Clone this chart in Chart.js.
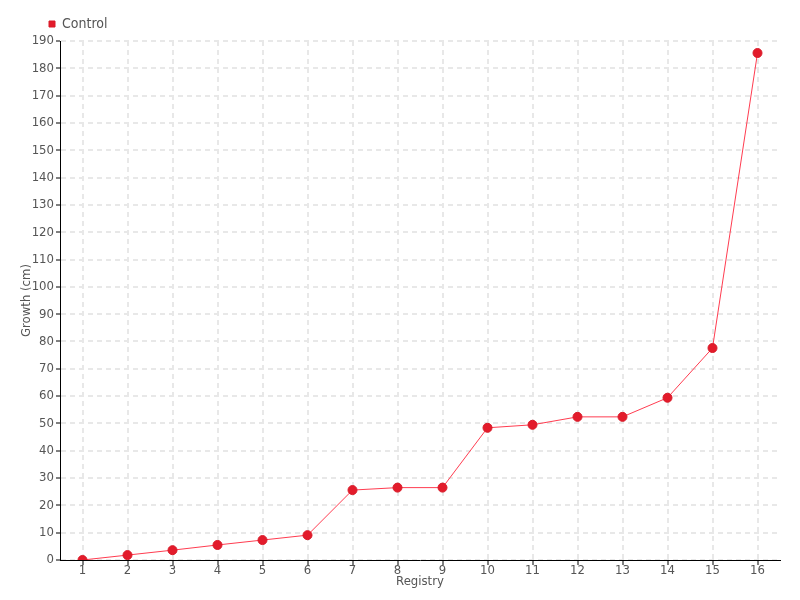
<!DOCTYPE html>
<html>
<head>
<meta charset="utf-8">
<script src="https://cdn.jsdelivr.net/npm/chart.js@4"></script>
<style>
  html, body { margin: 0; padding: 0; background: #fff; }
  #wrap { width: 800px; height: 600px; }
</style>
</head>
<body>
<div id="wrap"><canvas id="growthChart" width="800" height="600"></canvas></div>
<script>
// Datos
var registros = ['1', '2', '3', '4', '5', '6', '7', '8', '9', '10', '11', '12', '13', '14', '15', '16'];
var control = [0, 1.8, 3.6, 5.5, 7.3, 9.1, 25.6, 26.5, 26.5, 48.4, 49.5, 52.4, 52.4, 59.4, 77.6, 185.6];
var yMax = 190;
var yPaso = 10;

Chart.defaults.font.family = "'Liberation Sans Narrow', 'DejaVu Sans Condensed', Roboto, sans-serif";
Chart.defaults.font.size = 13;
Chart.defaults.color = '#555';

// mover la leyenda un poco a la derecha, como en el original
var moverLeyenda = {
    id: 'moverLeyenda',
    afterLayout: function(chart) {
        if (chart.legend) {
            chart.legend.left += 29;
        }
    }
};

var ctx = document.getElementById('growthChart').getContext('2d');
var growthChart = new Chart(ctx, {
    type: 'line',
    data: {
        labels: registros,
        datasets: [{
            label: 'Control',
            data: control,
            borderColor: 'rgba(255, 60, 80, 1)',
            backgroundColor: '#e31b2b',
            pointBackgroundColor: '#e31b2b',
            pointBorderColor: '#d81a28',
            pointBorderWidth: 1,
            pointRadius: 4.5,
            borderWidth: 1,
            tension: 0
        }]
    },
    options: {
        responsive: false,
        animation: false,
        layout: { padding: { left: 10, right: 20, top: 7, bottom: 0 } },
        plugins: {
            legend: {
                align: 'start',
                labels: {
                    usePointStyle: true,
                    pointStyle: 'rect',
                    boxWidth: 6,
                    boxHeight: 6,
                    padding: 10,
                    font: { size: 14 }
                }
            },
            tooltip: { enabled: false }
        },
        scales: {
            x: {
                offset: true,
                afterFit: function(scale) { scale.height = 40; },
                grid: {
                    offset: false,
                    color: '#e8e8e8',
                    lineWidth: 2,
                    tickColor: '#000',
                    tickWidth: 1,
                    tickLength: 5
                },
                border: { color: '#000', width: 1, dash: [5, 4] },
                ticks: { padding: -2 },
                title: { display: true, text: 'Registry', padding: { top: 0, bottom: 11 } }
            },
            y: {
                min: 0,
                max: yMax,
                afterFit: function(scale) { scale.width = 50; },
                grid: {
                    color: '#e8e8e8',
                    lineWidth: 2,
                    tickColor: '#000',
                    tickWidth: 1,
                    tickLength: 4
                },
                border: { color: '#000', width: 1, dash: [5, 4] },
                ticks: { stepSize: yPaso, padding: 2 },
                title: { display: true, text: 'Growth (cm)', padding: { top: 9, bottom: 0 } }
            }
        }
    },
    plugins: [moverLeyenda]
});
</script>
</body>
</html>
